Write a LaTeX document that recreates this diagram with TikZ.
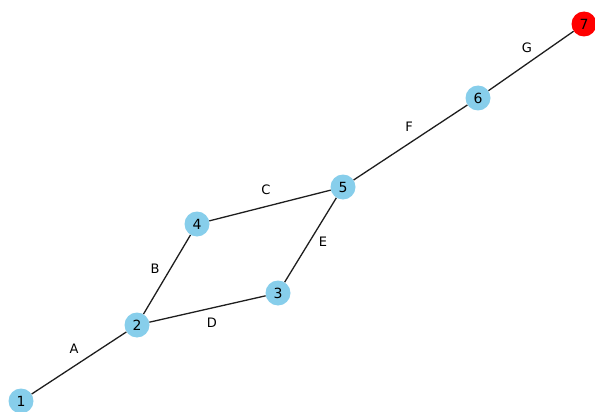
\documentclass[tikz,border=0pt]{standalone}
\usepackage{fontspec}
\setmainfont{DejaVu Sans}
\definecolor{skyb}{RGB}{135,206,235}
\definecolor{edgec}{RGB}{30,30,30}
\begin{document}
\begin{tikzpicture}[x=1pt,y=-1pt,
  vert/.style={circle,fill=skyb,minimum size=25pt,inner sep=0pt,font=\fontsize{14}{16}\selectfont},
  hot/.style={vert,fill=red},
  edge/.style={draw=edgec,line width=1.3pt},
  elab/.style={font=\fontsize{13}{15}\selectfont,inner sep=0pt}]
\useasboundingbox (0,0) rectangle (595,412);
\node[vert] (n1) at (21,401) {1};
\node[vert] (n2) at (137,325) {2};
\node[vert] (n3) at (278,293) {3};
\node[vert] (n4) at (197,224) {4};
\node[vert] (n5) at (343,187) {5};
\node[vert] (n6) at (478,98) {6};
\node[hot] (n7) at (584,24) {7};
\draw[edge] (n1) -- (n2);
\draw[edge] (n2) -- (n4);
\draw[edge] (n4) -- (n5);
\draw[edge] (n2) -- (n3);
\draw[edge] (n3) -- (n5);
\draw[edge] (n5) -- (n6);
\draw[edge] (n6) -- (n7);
\node[elab] (la) at (74,349) {A};
\node[elab] (lb) at (155,269) {B};
\node[elab] (lc) at (266,190) {C};
\node[elab] (ld) at (212,323) {D};
\node[elab] (le) at (323,242) {E};
\node[elab] (lf) at (409,127) {F};
\node[elab] (lg) at (527,48) {G};
\end{tikzpicture}
\end{document}
